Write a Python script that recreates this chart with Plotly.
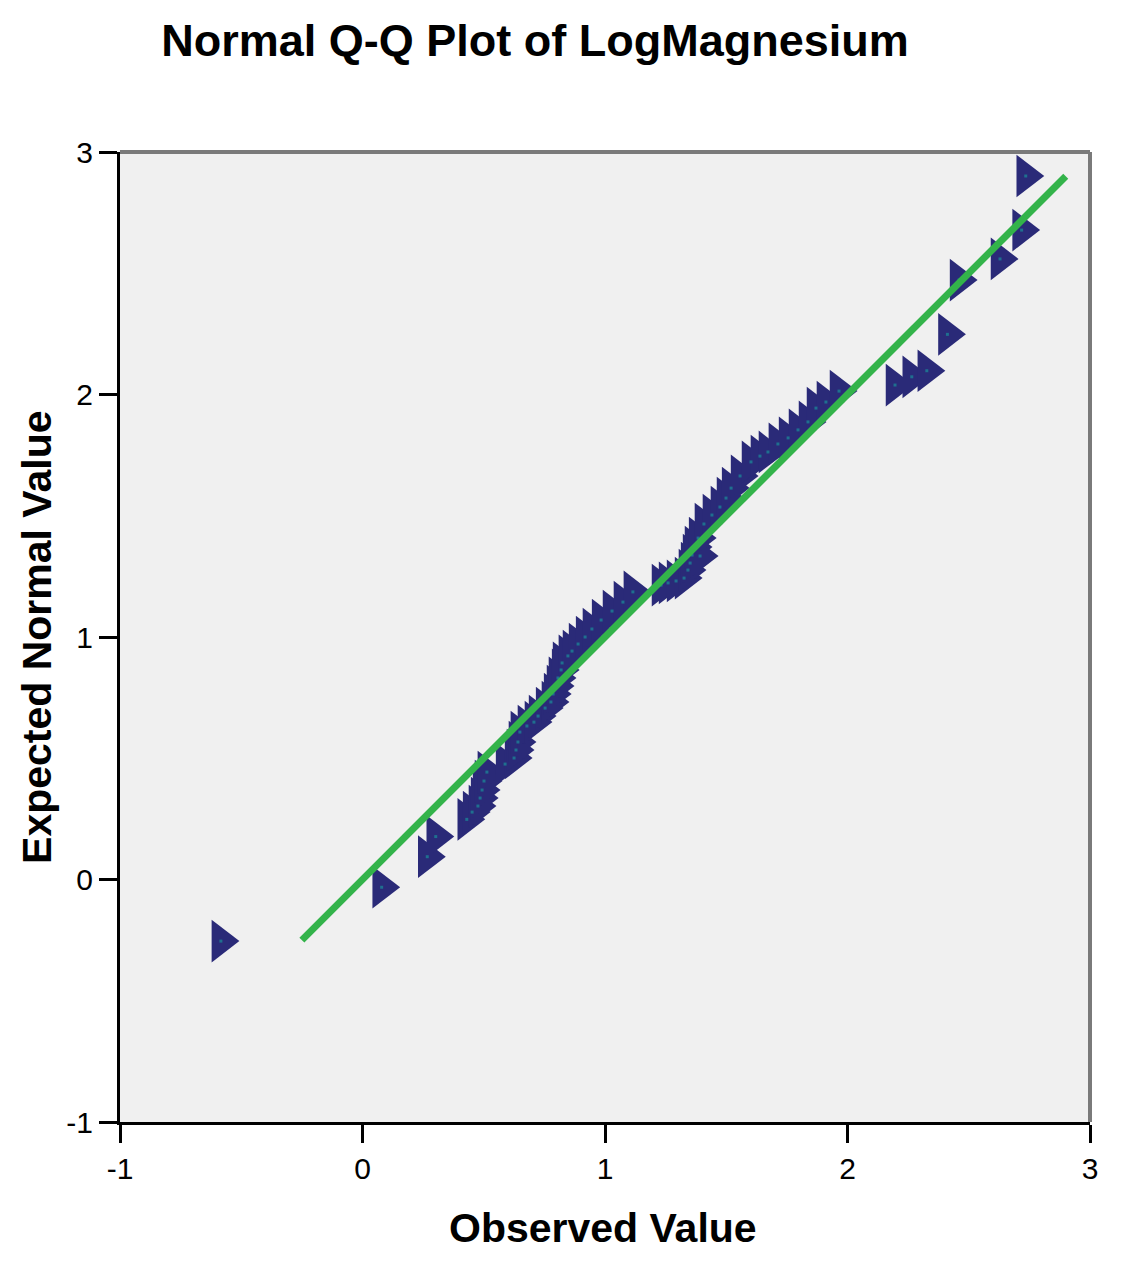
import plotly.graph_objects as go

observed = [-0.584, 0.079, 0.267, 0.302, 0.430, 0.452, 0.476, 0.485, 0.493, 0.501,
            0.513, 0.588, 0.625, 0.633, 0.641, 0.649, 0.678, 0.707, 0.724, 0.753,
            0.777, 0.786, 0.798, 0.806, 0.819, 0.823, 0.847, 0.864, 0.889, 0.918,
            0.946, 0.984, 1.029, 1.074, 1.115, 1.231, 1.260, 1.293, 1.326, 1.342,
            1.351, 1.359, 1.367, 1.392, 1.384, 1.408, 1.441, 1.474, 1.499, 1.520,
            1.557, 1.602, 1.639, 1.672, 1.713, 1.755, 1.796, 1.837, 1.870, 1.911,
            1.965, 2.196, 2.265, 2.327, 2.412, 2.460, 2.629, 2.718, 2.735]
expected = [-0.254, -0.032, 0.094, 0.177, 0.248, 0.278, 0.303, 0.336, 0.369, 0.406,
            0.443, 0.476, 0.501, 0.534, 0.567, 0.608, 0.633, 0.649, 0.674, 0.707,
            0.732, 0.765, 0.798, 0.831, 0.864, 0.893, 0.922, 0.942, 0.971, 1.000,
            1.033, 1.070, 1.107, 1.144, 1.186, 1.214, 1.223, 1.231, 1.243, 1.276,
            1.305, 1.338, 1.371, 1.334, 1.408, 1.466, 1.503, 1.536, 1.573, 1.614,
            1.664, 1.722, 1.746, 1.763, 1.796, 1.821, 1.854, 1.887, 1.944, 1.969,
            2.014, 2.039, 2.073, 2.098, 2.248, 2.472, 2.559, 2.678, 2.901]

# Reference line (y = x)
line_x = [-0.25, 2.9]
line_y = [-0.25, 2.9]

tick_vals = [-1, 0, 1, 2, 3]
tick_text = ["-1", "0", "1", "2", "3"]

FONT = "Liberation Sans, Arial, sans-serif"
NAVY = "#2a2a78"
GREEN = "#33b34a"

fig = go.Figure()
fig.add_trace(go.Scatter(
    x=observed, y=expected, mode="markers",
    marker=dict(symbol="triangle-right", size=37, color=NAVY, line=dict(width=0)),
    hoverinfo="x+y", showlegend=False))
fig.add_trace(go.Scatter(
    x=observed, y=expected, mode="markers",
    marker=dict(symbol="square", size=3, color="#1f6f8f", line=dict(width=0)),
    hoverinfo="skip", showlegend=False))
fig.add_trace(go.Scatter(
    x=line_x, y=line_y, mode="lines",
    line=dict(color=GREEN, width=7), hoverinfo="skip", showlegend=False))

axis_common = dict(
    range=[-1, 3], tickvals=tick_vals, ticktext=tick_text,
    showgrid=False, zeroline=False,
    showline=True, linecolor="black", linewidth=3, mirror=False,
    ticks="outside", ticklen=18, tickwidth=3, tickcolor="black",
    tickfont=dict(family=FONT, size=30, color="black"),
)

fig.update_layout(
    width=1123, height=1265,
    margin=dict(l=112, r=41, t=144, b=151),
    paper_bgcolor="white", plot_bgcolor="#f0f0f0",
    xaxis=axis_common,
    yaxis=axis_common,
    title=dict(text="<b>Normal Q-Q Plot of LogMagnesium</b>",
               font=dict(family=FONT, size=45, color="black"),
               xref="container", yref="container",
               x=(535 - 8) / 1123, y=1 - 32 / 1265, xanchor="center", yanchor="middle"),
    annotations=[
        dict(text="<b>Observed Value</b>", xref="paper", yref="paper",
             x=0.498, y=-0.109, xanchor="center", yanchor="middle",
             showarrow=False, font=dict(family=FONT, size=41, color="black")),
        dict(text="<b>Expected Normal Value</b>", xref="paper", yref="paper",
             x=-0.0856, y=0.5, xanchor="center", yanchor="middle", textangle=-90,
             showarrow=False, font=dict(family=FONT, size=41, color="black")),
    ],
    shapes=[
        dict(type="line", xref="paper", yref="paper", x0=0, x1=1, y0=1, y1=1,
             line=dict(color="#7a7a7a", width=4)),
        dict(type="line", xref="paper", yref="paper", x0=1, x1=1, y0=0, y1=1,
             line=dict(color="#7a7a7a", width=4)),
    ],
)

fig.write_html("out.html")
